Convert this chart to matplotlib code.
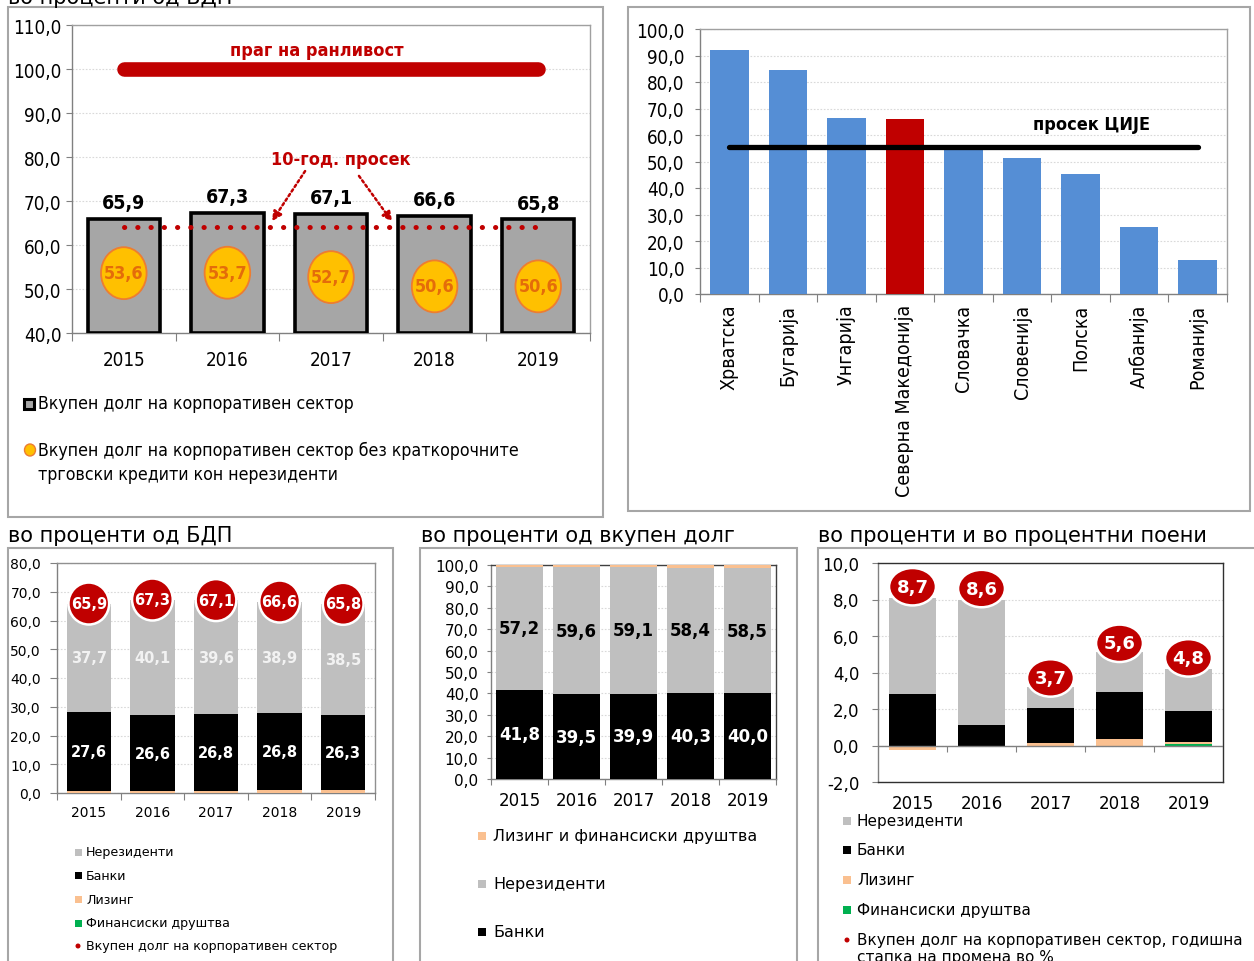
import matplotlib
matplotlib.use('Agg')
import matplotlib.pyplot as plt
from matplotlib import font_manager as fm
from matplotlib.patches import Rectangle, Ellipse
import numpy as np

W, H = 1254, 962

# ---------------- data ----------------
years = ['2015', '2016', '2017', '2018', '2019']

# Panel 1: total corporate debt, % of GDP
total_debt_gdp = [65.9, 67.3, 67.1, 66.6, 65.8]
debt_excl_trade_credits = [53.6, 53.7, 52.7, 50.6, 50.6]
vulnerability_threshold = 100.0
ten_year_average = 64.0

# Panel 2: CEE comparison
countries = ['Хрватска', 'Бугарија', 'Унгарија', 'Северна Македонија', 'Словачка',
             'Словенија', 'Полска', 'Албанија', 'Романија']
country_debt = [92.1, 84.4, 66.6, 66.2, 55.7, 51.3, 45.4, 25.4, 12.7]
cee_average = 55.4
highlight_country = 'Северна Македонија'

# Panel 3: structure, % of GDP
nonresidents_gdp = [37.7, 40.1, 39.6, 38.9, 38.5]
banks_gdp = [27.6, 26.6, 26.8, 26.8, 26.3]
leasing_gdp = [0.5, 0.5, 0.6, 0.8, 0.9]
fincomp_gdp = [0.1, 0.1, 0.1, 0.1, 0.1]

# Panel 4: structure, % of total debt
banks_share = [41.8, 39.5, 39.9, 40.3, 40.0]
nonresidents_share = [57.2, 59.6, 59.1, 58.4, 58.5]
leasing_fin_share = [1.0, 0.9, 1.0, 1.3, 1.5]

# Panel 5: annual growth and contributions
total_growth = [8.7, 8.6, 3.7, 5.6, 4.8]
nonresidents_contrib = [5.3, 6.9, 1.15, 2.2, 2.3]
banks_contrib = [2.8, 1.1, 1.9, 2.6, 1.7]
leasing_contrib = [-0.25, -0.05, 0.15, 0.33, 0.1]
fincomp_contrib = [0.0, 0.0, 0.0, 0.0, 0.08]

# ---------------- fonts ----------------
flist = fm.fontManager.ttflist
names = {f.name for f in flist}
has_cond = any(f.name == 'DejaVu Sans' and str(f.stretch) in ('condensed', 'semi-condensed')
               for f in flist)
if has_cond:
    NAR = dict(family='DejaVu Sans', fontstretch='condensed'); NS = 1.0
elif 'Liberation Sans Narrow' in names:
    NAR = dict(family='Liberation Sans Narrow'); NS = 1.12
elif 'Roboto Condensed' in names:
    NAR = dict(family='Roboto Condensed'); NS = 1.12
elif 'Roboto' in names:
    NAR = dict(family='Roboto'); NS = 1.06
else:
    NAR = dict(family='DejaVu Sans'); NS = 0.92
WIDE = dict(family='DejaVu Sans')

RED = '#C00000'
BLUE = '#558ED5'
LGRAY = '#BFBFBF'
ORANGE = '#FAC090'
GREEN = '#00B050'
AXC = '#808080'

def cf(v):
    return f"{v:.1f}".replace('.', ',')

fig = plt.figure(figsize=(W / 100, H / 100), dpi=100)

def px_axes(l, t, r, b):
    return fig.add_axes([l / W, 1 - b / H, (r - l) / W, (b - t) / H])

def fx(x):
    return x / W

def fy(y):
    return 1 - y / H

def frame(l, t, r, b):
    fig.add_artist(Rectangle((fx(l), fy(b)), fx(r) - fx(l), fy(t) - fy(b),
                             transform=fig.transFigure, fill=False,
                             ec='#A6A6A6', lw=1.5, clip_on=False))

def base_axes(ax, ylo, yhi, step, ncat, yfont, ysize, ytick_len, ypad,
              spine_color=AXC):
    ax.set_xlim(-0.5, ncat - 0.5)
    ax.set_ylim(ylo, yhi)
    ticks = np.arange(ylo, yhi + step / 2, step)
    ax.set_yticks(ticks)
    ax.set_yticklabels([cf(t) for t in ticks], fontsize=ysize, **yfont)
    ax.yaxis.grid(True, ls=(0, (1.5, 1.5)), color='#D9D9D9', lw=0.8)
    ax.set_axisbelow(True)
    for s in ax.spines.values():
        s.set_color(spine_color)
        s.set_linewidth(1.0)
    ax.spines['left'].set_color(AXC)
    ax.spines['bottom'].set_color(AXC)
    ax.tick_params(axis='y', direction='out', length=ytick_len, color=AXC,
                   pad=ypad, width=0.8)
    ax.set_xticks(np.arange(-0.5, ncat, 1))
    ax.set_xticklabels([])

def cat_labels(ax, labels, font, size, pad, tick_len, rotation=0):
    ncat = len(labels)
    ax.tick_params(axis='x', which='major', direction='out', length=tick_len,
                   color=AXC, width=0.8)
    ax.set_xticks(np.arange(ncat), minor=True)
    ax.set_xticklabels(labels, minor=True, fontsize=size, rotation=rotation,
                       **font)
    ax.tick_params(axis='x', which='minor', length=0, pad=pad)

# ======================= Panel 1 =======================
frame(8, 8, 603, 518)
fig.text(fx(8), fy(4), 'во проценти од БДП', fontsize=15, va='baseline',
         ha='left', **WIDE)
ax1 = px_axes(72, 26, 590, 334)
base_axes(ax1, 40, 110, 10, 5, NAR, 13.5 * NS, 4.5, 3, spine_color='#A0A0A0')
cat_labels(ax1, years, NAR, 13.5 * NS, 12, 6)
x = np.arange(len(years))
ax1.bar(x, [v - 40 for v in total_debt_gdp], bottom=40, width=0.7,
        color='#A6A6A6', edgecolor='black', linewidth=2.6, zorder=3)
for i, v in enumerate(total_debt_gdp):
    ax1.text(i, v + 3.7, cf(v), ha='center', va='center', fontsize=14 * NS,
             fontweight='bold', zorder=6, **NAR)
# threshold line
ax1.plot([x[0], x[-1]], [vulnerability_threshold] * 2, color=RED, lw=10.5,
         solid_capstyle='round', zorder=4)
ax1.text(1.86, vulnerability_threshold + 4.4, 'праг на ранливост', color=RED,
         fontsize=13 * NS, fontweight='bold', ha='center', va='center', **NAR)
# 10-year average dotted line
ax1.plot([x[0], x[-1]], [ten_year_average] * 2, color=RED, lw=3.6,
         ls=(0, (0.05, 2.6)), dash_capstyle='round', zorder=5)
ax1.text(2.09, 79.5, '10-год. просек', color=RED, fontsize=13 * NS,
         fontweight='bold', ha='center', va='center', **NAR)
for (xs, ys, xe, ye) in [(1.75, 76.8, 1.43, ten_year_average + 1.4),
                          (2.27, 75.7, 2.59, ten_year_average + 1.3)]:
    ax1.annotate('', xy=(xe, ye), xytext=(xs, ys),
                 arrowprops=dict(arrowstyle='-|>', color=RED, lw=1.8,
                                 ls=(0, (1, 1.2)), mutation_scale=14,
                                 shrinkA=0, shrinkB=0), zorder=6)
# orange circles
for i, v in enumerate(debt_excl_trade_credits):
    ax1.add_patch(Ellipse((i, v), 0.44, 11.8, fc='#FFC000', ec='#ED7D31',
                          lw=1.3, zorder=6))
    ax1.text(i, v, cf(v), ha='center', va='center', color='#E46C0A',
             fontsize=13 * NS, fontweight='bold', zorder=7, **NAR)
# legend (manual)
LEG1 = 12.7 * NS
fig.add_artist(Rectangle((fx(24), fy(410)), fx(10), 10 / H,
                         transform=fig.transFigure, fc='#A6A6A6', ec='black',
                         lw=2.2))
fig.text(fx(38), fy(404), 'Вкупен долг на корпоративен сектор', fontsize=LEG1,
         va='center', ha='left', **NAR)
fig.add_artist(Ellipse((fx(30), fy(451)), 11 / W, 12 / H,
                       transform=fig.transFigure, fc='#FFC000', ec='#ED7D31',
                       lw=1))
fig.text(fx(38), fy(451), 'Вкупен долг на корпоративен сектор без краткорочните',
         fontsize=LEG1, va='center', ha='left', **NAR)
fig.text(fx(38), fy(475), 'трговски кредити кон нерезиденти', fontsize=LEG1,
         va='center', ha='left', **NAR)

# ======================= Panel 2 =======================
frame(628, 8, 1250, 512)
ax2 = px_axes(700, 30, 1227, 295)
base_axes(ax2, 0, 100, 10, len(countries), NAR, 13.5 * NS, 3.5, 7.5,
          spine_color='#A0A0A0')
cat_labels(ax2, countries, NAR, 14 * NS, 7, 6, rotation=90)
for lab in ax2.get_xticklabels(minor=True):
    lab.set_va('top')
    lab.set_ha('center')
xc = np.arange(len(countries))
bar_colors = [RED if c == highlight_country else BLUE for c in countries]
ax2.bar(xc, country_debt, width=0.66, color=bar_colors, zorder=3)
ax2.plot([xc[0], xc[-1]], [cee_average] * 2, color='black', lw=3.8,
         solid_capstyle='round', zorder=5)
ax2.text(6.19, 64.2, 'просек ЦИЈЕ', fontsize=13 * NS, fontweight='bold',
         ha='center', va='center', **NAR)

# ======================= Panel 3 =======================
fig.text(fx(8), fy(536), 'во проценти од БДП', fontsize=15, va='center',
         ha='left', **WIDE)
frame(8, 549, 393, 990)
ax3 = px_axes(57, 564, 375, 794)
base_axes(ax3, 0, 80, 10, 5, WIDE, 10, 5, 6.5, spine_color='#909090')
cat_labels(ax3, years, WIDE, 10, 9, 5)
bottom = np.zeros(5)
for vals, col in [(fincomp_gdp, GREEN), (leasing_gdp, ORANGE),
                  (banks_gdp, 'black'), (nonresidents_gdp, LGRAY)]:
    ax3.bar(x, vals, bottom=bottom, width=0.70, color=col, zorder=3)
    bottom = bottom + np.array(vals)
base_banks = np.array(fincomp_gdp) + np.array(leasing_gdp)
for i in range(5):
    ax3.text(i, base_banks[i] + banks_gdp[i] / 2, cf(banks_gdp[i]), color='white',
             fontsize=10.5, fontweight='bold', ha='center', va='center', zorder=5,
             **WIDE)
    ax3.text(i, base_banks[i] + banks_gdp[i] + nonresidents_gdp[i] / 2,
             cf(nonresidents_gdp[i]), color='#F2F2F2', fontsize=10.5,
             fontweight='bold', ha='center', va='center', zorder=5, **WIDE)
    ax3.add_patch(Ellipse((i, total_debt_gdp[i]), 0.64, 14.6, fc=RED, ec='white',
                          lw=1.8, zorder=6))
    ax3.text(i, total_debt_gdp[i], cf(total_debt_gdp[i]), color='white',
             fontsize=10.5, fontweight='bold', ha='center', va='center', zorder=7,
             **WIDE)

def legend_items(items, x_mark, x_text, size, msize=8):
    for (label, col, kind, ypx) in items:
        if kind == 'sq':
            fig.add_artist(Rectangle((fx(x_mark - msize / 2), fy(ypx + msize / 2)),
                                     msize / W, msize / H, transform=fig.transFigure,
                                     fc=col, ec='none'))
        else:
            fig.add_artist(Ellipse((fx(x_mark), fy(ypx)), 5 / W, 5 / H,
                                   transform=fig.transFigure, fc=col, ec='none'))
        fig.text(fx(x_text), fy(ypx), label, fontsize=size, va='center', ha='left',
                 **WIDE)

legend_items([('Нерезиденти', LGRAY, 'sq', 853),
              ('Банки', 'black', 'sq', 876),
              ('Лизинг', ORANGE, 'sq', 900),
              ('Финансиски друштва', GREEN, 'sq', 924),
              ('Вкупен долг на корпоративен сектор', RED, 'dot', 947)],
             78, 86, 9.1, msize=7)

# ======================= Panel 4 =======================
fig.text(fx(421), fy(536), 'во проценти од вкупен долг', fontsize=15,
         va='center', ha='left', **WIDE)
frame(420, 549, 797, 990)
ax4 = px_axes(491, 566, 776, 780)
base_axes(ax4, 0, 100, 10, 5, WIDE, 11, 3, 6, spine_color='#404040')
cat_labels(ax4, years, WIDE, 12, 8.5, 4)
bottom = np.zeros(5)
for vals, col in [(banks_share, 'black'), (nonresidents_share, LGRAY),
                  (leasing_fin_share, ORANGE)]:
    ax4.bar(x, vals, bottom=bottom, width=0.82, color=col, zorder=3)
    bottom = bottom + np.array(vals)
for i in range(5):
    ax4.text(i, banks_share[i] / 2, cf(banks_share[i]), color='white', fontsize=12,
             fontweight='bold', ha='center', va='center', zorder=5, **WIDE)
    ax4.text(i, banks_share[i] + nonresidents_share[i] / 2,
             cf(nonresidents_share[i]), color='black', fontsize=12,
             fontweight='bold', ha='center', va='center', zorder=5, **WIDE)
legend_items([('Лизинг и финансиски друштва', ORANGE, 'sq', 837),
              ('Нерезиденти', LGRAY, 'sq', 885),
              ('Банки', 'black', 'sq', 933)],
             482, 493, 11.5, msize=8)

# ======================= Panel 5 =======================
fig.text(fx(818), fy(536), 'во проценти и во процентни поени', fontsize=15,
         va='center', ha='left', **WIDE)
frame(818, 549, 1300, 990)
ax5 = px_axes(878, 564, 1223, 783)
base_axes(ax5, -2, 10, 2, 5, WIDE, 12, 4.5, 9, spine_color='#303030')
ax5.spines['bottom'].set_color('#303030')
cat_labels(ax5, years, WIDE, 12, 9, 0)
pos_base = np.zeros(5)
neg_base = np.zeros(5)
for vals, col in [(fincomp_contrib, GREEN), (leasing_contrib, ORANGE),
                  (banks_contrib, 'black'), (nonresidents_contrib, LGRAY)]:
    v = np.array(vals)
    b = np.where(v >= 0, pos_base, neg_base)
    ax5.bar(x, v, bottom=b, width=0.67, color=col, zorder=3)
    pos_base = pos_base + np.where(v > 0, v, 0)
    neg_base = neg_base + np.where(v < 0, v, 0)
ax5.axhline(0, color=AXC, lw=1.0, zorder=4)
ax5.vlines(np.arange(-0.5, 5, 1)[1:-1], -0.33, 0, color=AXC, lw=0.8, zorder=4)
for i, v in enumerate(total_growth):
    ax5.add_patch(Ellipse((i, v), 0.68, 2.05, fc=RED, ec='white', lw=1.8,
                          zorder=6))
    ax5.text(i, v, cf(v), color='white', fontsize=13, fontweight='bold',
             ha='center', va='center', zorder=7, **WIDE)
legend_items([('Нерезиденти', LGRAY, 'sq', 822),
              ('Банки', 'black', 'sq', 851),
              ('Лизинг', ORANGE, 'sq', 881),
              ('Финансиски друштва', GREEN, 'sq', 911),
              ('Вкупен долг на корпоративен сектор, годишна', RED, 'dot', 941)],
             847, 857, 11, msize=8)
fig.text(fx(857), fy(958), 'стапка на промена во %', fontsize=11, va='center',
         ha='left', **WIDE)

fig.savefig('out.png', dpi=100)
